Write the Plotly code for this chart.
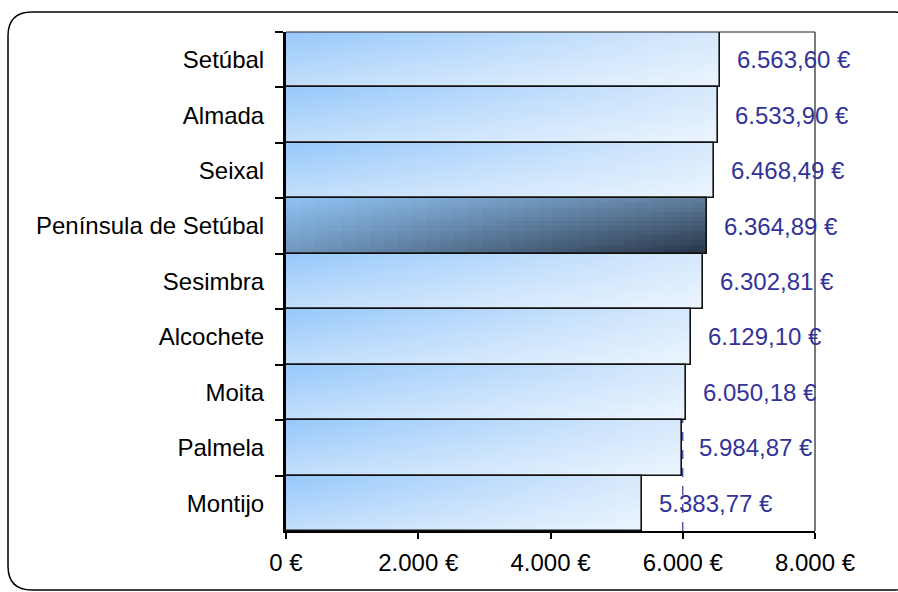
import plotly.graph_objects as go

# ---------------- data ----------------
categories = ["Setúbal", "Almada", "Seixal", "Península de Setúbal", "Sesimbra",
              "Alcochete", "Moita", "Palmela", "Montijo"]
values = [6563.60, 6533.90, 6468.49, 6364.89, 6302.81, 6129.10, 6050.18, 5984.87, 5383.77]
highlight = "Península de Setúbal"
x_tickvals = [0, 2000, 4000, 6000, 8000]
x_ticktext = ["0 €", "2.000 €", "4.000 €", "6.000 €", "8.000 €"]
reference_line = 6000

# ---------------- styles ----------------
FONT = "Liberation Sans, Arial, sans-serif"
FS = 24
LABEL_COLOR = "#333399"
# gradient corners (top-left, top-right, bottom-left, bottom-right)
NORMAL = ((0x96, 0xc8, 0xfb), (0xd6, 0xe8, 0xfc), (0xc4, 0xdf, 0xfb), (0xec, 0xf5, 0xfe))
HILITE = ((0x90, 0xc2, 0xf3), (0x5e, 0x7c, 0x9b), (0x70, 0x97, 0xbe), (0x25, 0x33, 0x44))


def fmt_eur(v):
    s = f"{v:,.2f}".replace(",", "X").replace(".", ",").replace("X", ".")
    return s + " €"


def bilinear(c, u, t):
    tl, tr, bl, br = c
    out = []
    for k in range(3):
        top = tl[k] + (tr[k] - tl[k]) * u
        bot = bl[k] + (br[k] - bl[k]) * u
        out.append(round(top + (bot - top) * t))
    return "rgb(%d,%d,%d)" % tuple(out)


fig = go.Figure()

N, M = 30, 12
for k in range(M):
    frac_h = (M - k) / M
    t = (M - k - 0.5) / M
    for i in range(N):
        frac_w = (N - i) / N
        u = (N - i - 0.5) / N
        cols = [bilinear(HILITE if c == highlight else NORMAL, u, t) for c in categories]
        fig.add_trace(go.Bar(
            y=categories, x=[v * frac_w for v in values], base=0, orientation="h",
            width=frac_h, offset=-0.5,
            marker=dict(color=cols, line=dict(width=0)),
            hoverinfo="skip", showlegend=False,
        ))

# outline
fig.add_trace(go.Bar(
    y=categories, x=values, base=0, orientation="h", width=1, offset=-0.5,
    marker=dict(color="rgba(0,0,0,0)", line=dict(color="#111111", width=1.6)),
    showlegend=False, hovertemplate="%{y}: %{x}<extra></extra>",
))

# value labels
for c, v in zip(categories, values):
    fig.add_annotation(x=v, y=c, text=fmt_eur(v), showarrow=False, xanchor="left",
                       xshift=15, font=dict(family=FONT, size=FS, color=LABEL_COLOR))

# rounded outer border
L, R, T, B = 286, 815, 32, 531
W, H = R - L, B - T
X = lambda px: (px - L) / W
Y = lambda py: (B - py) / H
bl_, br_, bt_, bb_, r = 8, 918, 12, 590, 24
path = (f"M {X(bl_+r)},{Y(bt_)} L {X(br_-r)},{Y(bt_)} Q {X(br_)},{Y(bt_)} {X(br_)},{Y(bt_+r)} "
        f"L {X(br_)},{Y(bb_-r)} Q {X(br_)},{Y(bb_)} {X(br_-r)},{Y(bb_)} "
        f"L {X(bl_+r)},{Y(bb_)} Q {X(bl_)},{Y(bb_)} {X(bl_)},{Y(bb_-r)} "
        f"L {X(bl_)},{Y(bt_+r)} Q {X(bl_)},{Y(bt_)} {X(bl_+r)},{Y(bt_)} Z")
fig.add_shape(type="path", path=path, xref="paper", yref="paper",
              line=dict(color="#000000", width=1.5), layer="below")

# dashed reference line
fig.add_shape(type="line", x0=reference_line, x1=reference_line, xref="x", y0=0, y1=1, yref="paper",
              line=dict(color=LABEL_COLOR, width=1.2, dash="dash"), layer="below")
# plot border top/right
fig.add_shape(type="line", x0=0, x1=1, y0=1, y1=1, xref="paper", yref="paper",
              line=dict(color="#222222", width=1.2))
fig.add_shape(type="line", x0=1, x1=1, y0=0, y1=1, xref="paper", yref="paper",
              line=dict(color="#222222", width=1.2))

fig.update_layout(
    width=898, height=592,
    margin=dict(l=L, r=898 - R, t=T, b=592 - B, autoexpand=False),
    barmode="overlay", bargap=0,
    paper_bgcolor="white", plot_bgcolor="white",
    font=dict(family=FONT, size=FS, color="black"),
    showlegend=False,
    xaxis=dict(range=[0, 8000], tickvals=x_tickvals, ticktext=x_ticktext,
               ticks="outside", ticklen=6, tickwidth=2, tickcolor="black",
               showline=True, linewidth=2, linecolor="black", showgrid=False, zeroline=False,
               tickfont=dict(family=FONT, size=FS, color="black"), ticklabelstandoff=3),
    yaxis=dict(categoryorder="array", categoryarray=categories, autorange="reversed",
               ticks="outside", tickson="boundaries", ticklen=8, tickwidth=1.5, tickcolor="black",
               showline=True, linewidth=3, linecolor="black", showgrid=False, zeroline=False,
               tickfont=dict(family=FONT, size=FS, color="black"), ticklabelstandoff=14),
)

fig.write_html("out.html", config={"displayModeBar": False},
               post_script="document.body.style.margin='0';document.body.style.overflow='hidden';")
